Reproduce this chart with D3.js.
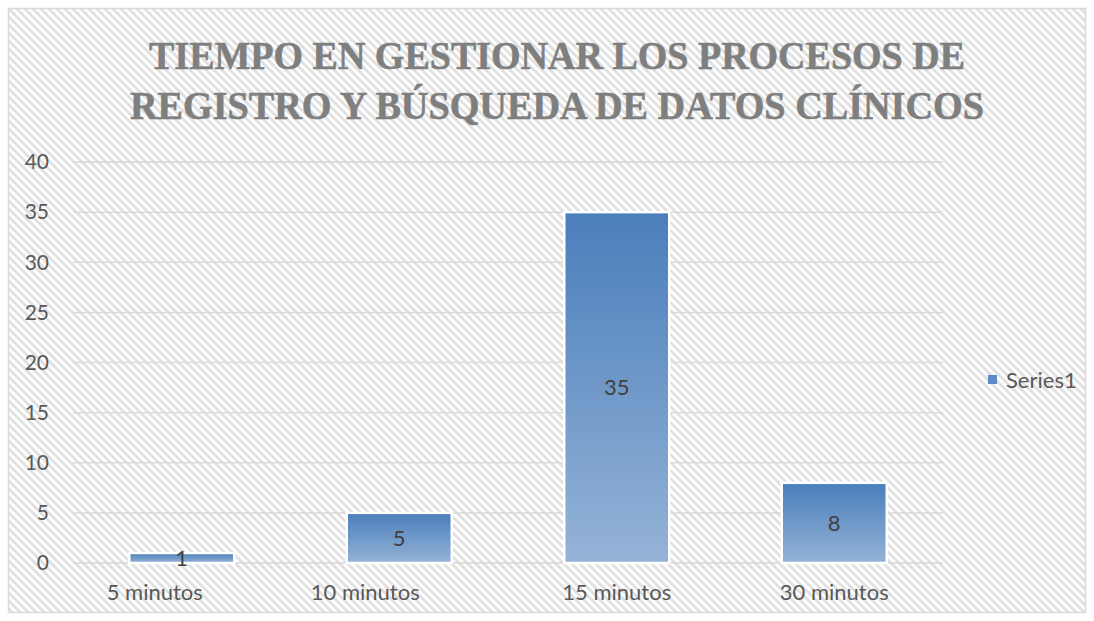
<!DOCTYPE html>
<html>
<head>
<meta charset="utf-8">
<script src="https://cdn.jsdelivr.net/npm/d3@7"></script>
<style>
  body { margin: 0; background: #fff; }
  text { font-family: Lato, "Open Sans", sans-serif; }
</style>
</head>
<body>
<svg width="1094" height="621"></svg>
<script>
const categories = ['5 minutos', '10 minutos', '15 minutos', '30 minutos'];
const values = [1, 5, 35, 8];
const yTicks = [0, 5, 10, 15, 20, 25, 30, 35, 40];
const titleLines = ['TIEMPO EN GESTIONAR LOS PROCESOS DE', 'REGISTRO Y BÚSQUEDA DE DATOS CLÍNICOS'];
const seriesName = 'Series1';

const svg = d3.select('svg');
const width = +svg.attr('width');
const height = +svg.attr('height');
const margin = { top: 162, right: 151, bottom: 58, left: 73 };

const defs = svg.append('defs');

// hatched background like Excel's wide downward diagonal
const pat = defs.append('pattern')
    .attr('id', 'hatch')
    .attr('width', 8).attr('height', 8)
    .attr('patternUnits', 'userSpaceOnUse');
pat.append('rect').attr('width', 8).attr('height', 8).attr('fill', '#ffffff');
pat.append('path')
    .attr('d', 'M-2,2 L2,-2 M0,8 L8,0 M6,10 L10,6')
    .attr('transform', 'scale(-1,1) translate(-8,0)')
    .attr('stroke', '#e0e0e0')
    .attr('stroke-width', 2.8);

const grad = defs.append('linearGradient')
    .attr('id', 'barGrad')
    .attr('x1', 0).attr('y1', 0).attr('x2', 0).attr('y2', 1);
grad.append('stop').attr('offset', '0%').attr('stop-color', '#4a7ebb');
grad.append('stop').attr('offset', '100%').attr('stop-color', '#95b3d7');

svg.append('rect')
    .attr('x', 8.5).attr('y', 8.5)
    .attr('width', width - 17).attr('height', height - 17)
    .attr('fill', 'url(#hatch)')
    .attr('stroke', '#d9d9d9')
    .attr('stroke-width', 1.5);

// title
const titleWidths = [816, 854];
svg.append('g')
    .selectAll('text')
    .data(titleLines)
    .enter()
    .append('text')
    .attr('x', 557)
    .attr('y', (d, i) => 69 + i * 50)
    .attr('text-anchor', 'middle')
    .attr('textLength', (d, i) => titleWidths[i])
    .attr('lengthAdjust', 'spacingAndGlyphs')
    .style('font-family', '"Liberation Serif", "DejaVu Serif", serif')
    .style('font-weight', 'bold')
    .style('font-size', '41px')
    .attr('fill', '#7f7f7f')
    .attr('stroke', '#7f7f7f')
    .attr('stroke-width', 0.6)
    .text(d => d);

const x = d3.scaleBand()
    .domain(categories)
    .range([margin.left, width - margin.right])
    .paddingInner(0.517)
    .paddingOuter(0.2585);

const y = d3.scaleLinear()
    .domain([0, 40])
    .range([height - margin.bottom, margin.top]);

// gridlines
svg.append('g')
    .selectAll('line')
    .data(yTicks)
    .enter()
    .append('line')
    .attr('x1', margin.left)
    .attr('x2', width - margin.right)
    .attr('y1', d => y(d))
    .attr('y2', d => y(d))
    .attr('stroke', '#d9d9d9')
    .attr('stroke-width', 1.5);

// y axis labels
svg.append('g')
    .selectAll('text')
    .data(yTicks)
    .enter()
    .append('text')
    .attr('x', 49)
    .attr('y', d => y(d))
    .attr('dy', '0.35em')
    .attr('text-anchor', 'end')
    .attr('fill', '#595959')
    .style('font-size', '21px')
    .text(d => d);

// x axis labels (the first two sit a bit left of their bars in the original)
const labelShift = [-27, -34, 0, 0];
svg.append('g')
    .selectAll('text')
    .data(categories)
    .enter()
    .append('text')
    .attr('x', (d, i) => x(d) + x.bandwidth() / 2 + labelShift[i])
    .attr('y', height - margin.bottom + 37)
    .attr('text-anchor', 'middle')
    .attr('fill', '#595959')
    .style('font-size', '22px')
    .text(d => d);

// bars
const bars = svg.append('g')
    .selectAll('g')
    .data(values)
    .enter()
    .append('g');

bars.append('rect')
    .attr('x', (d, i) => x(categories[i]))
    .attr('y', d => y(d))
    .attr('width', x.bandwidth())
    .attr('height', d => y(0) - y(d))
    .attr('fill', 'url(#barGrad)')
    .attr('stroke', '#ffffff')
    .attr('stroke-width', 2.5);

bars.append('text')
    .attr('x', (d, i) => x(categories[i]) + x.bandwidth() / 2)
    .attr('y', d => (y(d) + y(0)) / 2)
    .attr('dy', '0.35em')
    .attr('text-anchor', 'middle')
    .attr('fill', '#404040')
    .style('font-size', '22px')
    .text(d => d);

// legend
const legend = svg.append('g').attr('transform', 'translate(988,380)');
legend.append('rect')
    .attr('x', 0).attr('y', -5)
    .attr('width', 9).attr('height', 9)
    .attr('fill', '#5e8bc5');
legend.append('text')
    .attr('x', 18)
    .attr('y', 0)
    .attr('dy', '0.35em')
    .attr('fill', '#595959')
    .style('font-size', '22px')
    .text(seriesName);
</script>
</body>
</html>
